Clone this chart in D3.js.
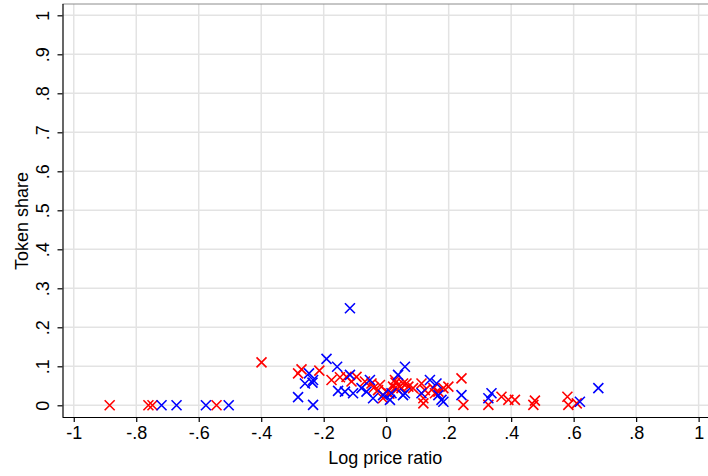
<!DOCTYPE html>
<html>
<head>
<meta charset="utf-8">
<script src="https://cdn.jsdelivr.net/npm/d3@7"></script>
<style>
  html, body { margin: 0; padding: 0; background: #fff; }
  svg { display: block; }
  text { font-family: "Liberation Sans", Arial, Helvetica, sans-serif; fill: #000; }
</style>
</head>
<body>
<svg id="chart" width="708" height="476"></svg>
<script>
// Group 1 (red markers): log price ratio and token share
const redX = [-0.885, -0.761, -0.748, -0.543, -0.399,
  -0.282, -0.271, -0.214, -0.175, -0.148, -0.127, -0.111, -0.095, -0.068, -0.047,
  -0.040, -0.026, -0.020, -0.010, 0.000, 0.010, 0.022, 0.028, 0.030, 0.035, 0.038,
  0.049, 0.054, 0.065, 0.071, 0.086, 0.113, 0.119, 0.119, 0.124, 0.151, 0.156,
  0.167, 0.183, 0.199, 0.241, 0.247, 0.327, 0.369, 0.391, 0.412, 0.471, 0.476,
  0.580, 0.583, 0.610];
const redY = [0.000, 0.000, 0.000, 0.000, 0.110,
  0.082, 0.092, 0.089, 0.065, 0.072, 0.073, 0.061, 0.073, 0.061, 0.056,
  0.045, 0.039, 0.052, 0.018, 0.035, 0.030, 0.048, 0.065, 0.058, 0.042, 0.052,
  0.044, 0.056, 0.056, 0.048, 0.044, 0.056, 0.005, 0.018, 0.039, 0.044, 0.031,
  0.035, 0.044, 0.048, 0.069, 0.001, 0.001, 0.022, 0.014, 0.014, 0.001, 0.012,
  0.022, 0.001, 0.005];

// Group 2 (blue markers)
const blueX = [-0.719, -0.671, -0.577, -0.504,
  -0.282, -0.260, -0.247, -0.236, -0.234, -0.234, -0.191, -0.157, -0.154, -0.132,
  -0.116, -0.116, -0.106, -0.079, -0.063, -0.052, -0.042, -0.010, 0.012, 0.017,
  0.038, 0.054, 0.060, 0.060, 0.113, 0.140, 0.161, 0.167, 0.177, 0.183, 0.241,
  0.327, 0.337, 0.620, 0.679];
const blueY = [0.000, 0.000, 0.000, 0.000,
  0.021, 0.056, 0.082, 0.058, 0.001, 0.065, 0.119, 0.099, 0.037, 0.035,
  0.249, 0.078, 0.031, 0.044, 0.035, 0.065, 0.018, 0.026, 0.014, 0.031,
  0.078, 0.026, 0.099, 0.031, 0.031, 0.065, 0.056, 0.026, 0.014, 0.009, 0.026,
  0.018, 0.031, 0.009, 0.044];

const xTicks = [-1, -0.8, -0.6, -0.4, -0.2, 0, 0.2, 0.4, 0.6, 0.8, 1];
const xTickLabels = ["-1", "-.8", "-.6", "-.4", "-.2", "0", ".2", ".4", ".6", ".8", "1"];
const yTicks = [0, 0.1, 0.2, 0.3, 0.4, 0.5, 0.6, 0.7, 0.8, 0.9, 1];
const yTickLabels = ["0", ".1", ".2", ".3", ".4", ".5", ".6", ".7", ".8", ".9", "1"];

const xTitle = "Log price ratio";
const yTitle = "Token share";

const svg = d3.select("#chart");
const plotL = 62.5, plotR = 708, plotT = 4, plotB = 417;
const fontSize = 18;

const x = d3.scaleLinear().domain([-1.036, 1.03]).range([plotL, plotR]);
const y = d3.scaleLinear().domain([-0.03, 1.029]).range([plotB, plotT]);

// grid
const grid = svg.append("g");
grid.selectAll("line.vg").data(xTicks).join("line")
  .attr("x1", d => x(d)).attr("x2", d => x(d))
  .attr("y1", plotT).attr("y2", plotB)
  .attr("stroke", "#e3e3e3").attr("stroke-width", 1.5);
grid.selectAll("line.hg").data(yTicks).join("line")
  .attr("x1", plotL).attr("x2", plotR)
  .attr("y1", d => y(d)).attr("y2", d => y(d))
  .attr("stroke", "#e3e3e3").attr("stroke-width", 1.5);

// plot region outline (top)
svg.append("line").attr("x1", plotL).attr("x2", plotR).attr("y1", plotT).attr("y2", plotT)
  .attr("stroke", "#8c8c8c").attr("stroke-width", 1);

// axes
const xAxis = d3.axisBottom(x).tickValues(xTicks)
  .tickFormat((d, i) => xTickLabels[i]).tickSize(5).tickSizeOuter(0).tickPadding(4);
const gx = svg.append("g").attr("transform", `translate(0,${plotB})`).call(xAxis);
gx.attr("font-size", null);
gx.select(".domain").attr("stroke", "#000").attr("stroke-width", 1.2)
  .attr("d", `M${plotL},0.5H${plotR}`);
gx.selectAll(".tick line").attr("stroke", "#000").attr("stroke-width", 1.2);
gx.selectAll(".tick text").style("font-size", fontSize + "px").attr("fill", "#000");

const yAxis = d3.axisLeft(y).tickValues(yTicks)
  .tickFormat((d, i) => yTickLabels[i]).tickSize(5).tickSizeOuter(0).tickPadding(0);
const gy = svg.append("g").attr("transform", `translate(${plotL},0)`).call(yAxis);
gy.attr("font-size", null);
gy.select(".domain").attr("stroke", "#000").attr("stroke-width", 1.2)
  .attr("d", `M0.5,${plotT}V${plotB}`);
gy.selectAll(".tick line").attr("stroke", "#000").attr("stroke-width", 1.2);
gy.selectAll(".tick text")
  .style("font-size", fontSize + "px").attr("fill", "#000")
  .attr("x", null).attr("dy", null)
  .attr("text-anchor", "middle")
  .attr("transform", "translate(-14,0) rotate(-90)");

// axis titles
svg.append("text").attr("x", (plotL + plotR) / 2).attr("y", 464)
  .attr("text-anchor", "middle").style("font-size", fontSize + "px").text(xTitle);
svg.append("text")
  .attr("transform", `translate(28,221) rotate(-90)`)
  .attr("text-anchor", "middle").style("font-size", fontSize + "px").text(yTitle);

// X-shaped markers
const s = 5;
function drawMarkers(xs, ys, color) {
  const data = xs.map((v, i) => [v, ys[i]]);
  svg.append("g").selectAll("path").data(data).join("path")
    .attr("transform", d => `translate(${x(d[0])},${y(d[1])})`)
    .attr("d", `M${-s},${-s}L${s},${s}M${-s},${s}L${s},${-s}`)
    .attr("stroke", color).attr("stroke-width", 1.6).attr("fill", "none");
}
drawMarkers(redX, redY, "#ff0000");
drawMarkers(blueX, blueY, "#0000ff");
</script>
</body>
</html>
